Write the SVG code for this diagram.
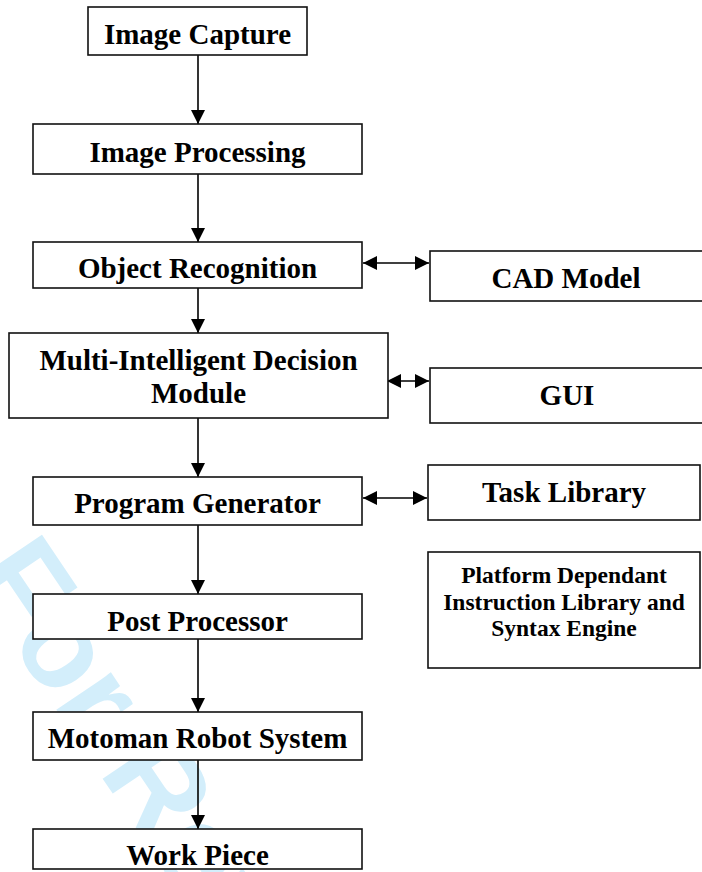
<svg xmlns="http://www.w3.org/2000/svg" width="702" height="872" viewBox="0 0 702 872">
<style>
.box{fill:#fff;stroke:#111;stroke-width:1.6}
.t{font-family:"Liberation Serif","Times New Roman",serif;font-weight:bold;font-size:29px;fill:#000;text-anchor:middle}
.s{font-size:23.5px}
.c{stroke:#000;stroke-width:1.6;fill:none}
.wm{font-family:"Liberation Sans",Arial,sans-serif;font-weight:bold;font-size:125px;fill:#d3eefb}
</style>
<defs>
<marker id="ah" viewBox="0 0 14 14" refX="14" refY="7" markerWidth="14" markerHeight="14" markerUnits="userSpaceOnUse" orient="auto-start-reverse">
<path d="M0,0 L14,7 L0,14 z" fill="#000"/>
</marker>
</defs>
<rect width="702" height="872" fill="#fff"/>
<text class="wm" transform="translate(-34,576) rotate(56)">For Review</text>
<g id="connectors">
<line class="c" x1="198" y1="55" x2="198" y2="124" marker-end="url(#ah)"/>
<line class="c" x1="198" y1="174" x2="198" y2="242" marker-end="url(#ah)"/>
<line class="c" x1="198" y1="288" x2="198" y2="333" marker-end="url(#ah)"/>
<line class="c" x1="198" y1="418" x2="198" y2="477" marker-end="url(#ah)"/>
<line class="c" x1="198" y1="525" x2="198" y2="594" marker-end="url(#ah)"/>
<line class="c" x1="198" y1="639" x2="198" y2="712" marker-end="url(#ah)"/>
<line class="c" x1="198" y1="760" x2="198" y2="829" marker-end="url(#ah)"/>
<line class="c" x1="363" y1="263" x2="429" y2="263" marker-start="url(#ah)" marker-end="url(#ah)"/>
<line class="c" x1="387" y1="381" x2="429" y2="381" marker-start="url(#ah)" marker-end="url(#ah)"/>
<line class="c" x1="363" y1="498" x2="427" y2="498" marker-start="url(#ah)" marker-end="url(#ah)"/>
</g>
<g id="image-capture"><rect class="box" x="88" y="7" width="219" height="48"/><text class="t" x="197.5" y="44">Image Capture</text></g>
<g id="image-processing"><rect class="box" x="33" y="124" width="329" height="50"/><text class="t" x="197.5" y="162">Image Processing</text></g>
<g id="object-recognition"><rect class="box" x="33" y="242" width="329" height="46"/><text class="t" x="197.5" y="278">Object Recognition</text></g>
<g id="decision-module"><rect class="box" x="9" y="333" width="379" height="85"/><text class="t" x="198.5" y="370">Multi-Intelligent Decision</text><text class="t" x="198.5" y="403">Module</text></g>
<g id="program-generator"><rect class="box" x="33" y="477" width="329" height="48"/><text class="t" x="197.5" y="513">Program Generator</text></g>
<g id="post-processor"><rect class="box" x="33" y="594" width="329" height="45"/><text class="t" x="197.5" y="631">Post Processor</text></g>
<g id="motoman"><rect class="box" x="33" y="712" width="329" height="48"/><text class="t" x="197.5" y="748">Motoman Robot System</text></g>
<g id="work-piece"><rect class="box" x="33" y="829" width="329" height="40"/><text class="t" x="197.5" y="865">Work Piece</text></g>
<g id="cad-model"><rect class="box" x="430" y="251" width="274" height="50"/><text class="t" x="566" y="288">CAD Model</text></g>
<g id="gui"><rect class="box" x="430" y="368" width="274" height="55"/><text class="t" x="567" y="405">GUI</text></g>
<g id="task-library"><rect class="box" x="428" y="465" width="272" height="55"/><text class="t" x="564" y="502">Task Library</text></g>
<g id="platform-library"><rect class="box" x="428" y="552" width="272" height="116"/><text class="t s" x="564" y="583">Platform Dependant</text><text class="t s" x="564" y="610">Instruction Library and</text><text class="t s" x="564" y="636">Syntax Engine</text></g>
</svg>
